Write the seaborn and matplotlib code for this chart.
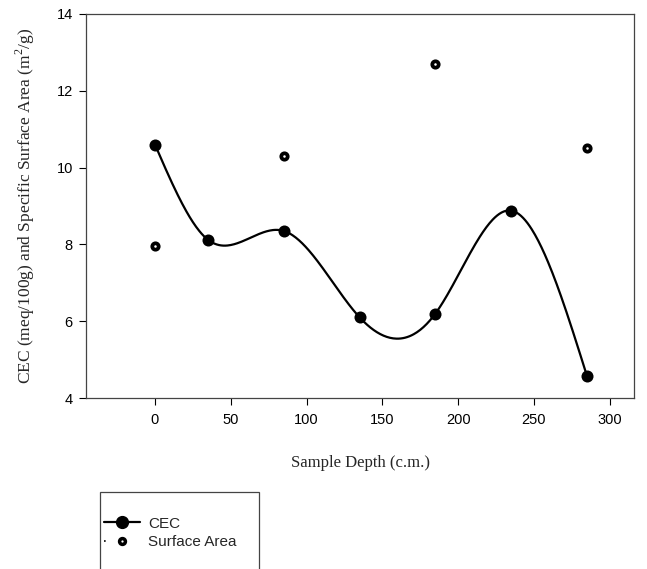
import numpy as np
import pandas as pd
import matplotlib
matplotlib.use("Agg")
import matplotlib.pyplot as plt
import seaborn as sns
from matplotlib.lines import Line2D
from matplotlib.patches import Rectangle

# ----------------------------
# Data
# ----------------------------
cec_depth = [0, 35, 85, 135, 185, 235, 285]
cec_value = [10.6, 8.12, 8.35, 6.1, 6.2, 8.88, 4.57]

sa_depth = [0, 85, 185, 285]
sa_value = [7.97, 10.3, 12.7, 10.5]

x_ticks = [0, 50, 100, 150, 200, 250, 300]
y_ticks = [4, 6, 8, 10, 12, 14]


def natural_spline(x, y, xs):
    # natural cubic spline through the CEC points (smooth connecting line)
    x = np.asarray(x, float)
    y = np.asarray(y, float)
    n = len(x)
    h = np.diff(x)
    A = np.zeros((n, n))
    b = np.zeros(n)
    A[0, 0] = A[-1, -1] = 1
    for i in range(1, n - 1):
        A[i, i - 1] = h[i - 1]
        A[i, i] = 2 * (h[i - 1] + h[i])
        A[i, i + 1] = h[i]
        b[i] = 3 * ((y[i + 1] - y[i]) / h[i] - (y[i] - y[i - 1]) / h[i - 1])
    c = np.linalg.solve(A, b)
    out = np.empty_like(xs)
    for k, xv in enumerate(xs):
        i = min(np.searchsorted(x, xv, side="right") - 1, n - 2)
        i = max(i, 0)
        dx = xv - x[i]
        bi = (y[i + 1] - y[i]) / h[i] - h[i] * (2 * c[i] + c[i + 1]) / 3
        di = (c[i + 1] - c[i]) / (3 * h[i])
        out[k] = y[i] + bi * dx + c[i] * dx ** 2 + di * dx ** 3
    return out


cec = pd.DataFrame({"depth": cec_depth, "value": cec_value})
sa = pd.DataFrame({"depth": sa_depth, "value": sa_value})

xs = np.linspace(cec_depth[0], cec_depth[-1], 400)
smooth = pd.DataFrame({"depth": xs, "value": natural_spline(cec_depth, cec_value, xs)})

sns.set_style("white")
plt.rcParams["font.family"] = ["Liberation Sans", "DejaVu Sans"]
plt.rcParams["mathtext.fontset"] = "custom"
plt.rcParams["mathtext.rm"] = "Liberation Serif"

fig = plt.figure(figsize=(6.47, 5.69), dpi=100)
ax = fig.add_axes([86 / 647, 1 - 398 / 569, (634 - 86) / 647, (398 - 14) / 569])

sns.lineplot(data=smooth, x="depth", y="value", ax=ax, color="black", lw=1.6, legend=False)
sns.scatterplot(data=cec, x="depth", y="value", ax=ax, color="black", s=75,
                edgecolor="black", linewidth=0, zorder=3, legend=False)
ax.plot(sa["depth"], sa["value"], ls="none", marker="o", ms=4.6, mfc="white",
        mec="black", mew=2.7, zorder=3)

ax.set_xlim(-45.5, 316)
ax.set_ylim(4, 14)
ax.set_xticks(x_ticks)
ax.set_yticks(y_ticks)
ax.tick_params(axis="x", direction="out", length=5, width=0.8, labelsize=10.5,
               bottom=True, pad=6, colors="black")
ax.tick_params(axis="y", direction="out", length=5, width=0.8, labelsize=10.5,
               left=True, pad=4.5, colors="black")
for s in ax.spines.values():
    s.set_color("#444444")
    s.set_linewidth(0.9)

ax.set_xlabel("Sample Depth (c.m.)", family=["Liberation Serif"], fontsize=12, labelpad=20)
ax.set_ylabel("CEC (meq/100g) and Specific Surface Area (m$^2$/g)",
              family=["Liberation Serif"], fontsize=12.5, labelpad=14)

# legend box hanging off the bottom of the figure
fig.patches.append(Rectangle((100 / 647, -0.05), (259 - 100) / 647, 0.05 + 77 / 569,
                             transform=fig.transFigure, fill=False,
                             edgecolor="#444444", lw=0.9))
handles = [
    Line2D([], [], color="black", lw=1.6, marker="o", ms=8.5),
    Line2D([], [], color="black", lw=1.2, ls=(0, (1, 30)), marker="o", ms=4.2,
           mfc="white", mec="black", mew=2.5),
]
fig.legend(handles, ["CEC", "Surface Area"], loc="upper left",
           bbox_to_anchor=(90 / 647, 1 - 503 / 569), frameon=False,
           fontsize=11, handlelength=2.4, handletextpad=0.5, labelspacing=0.3)

fig.savefig("out.png", dpi=100)
